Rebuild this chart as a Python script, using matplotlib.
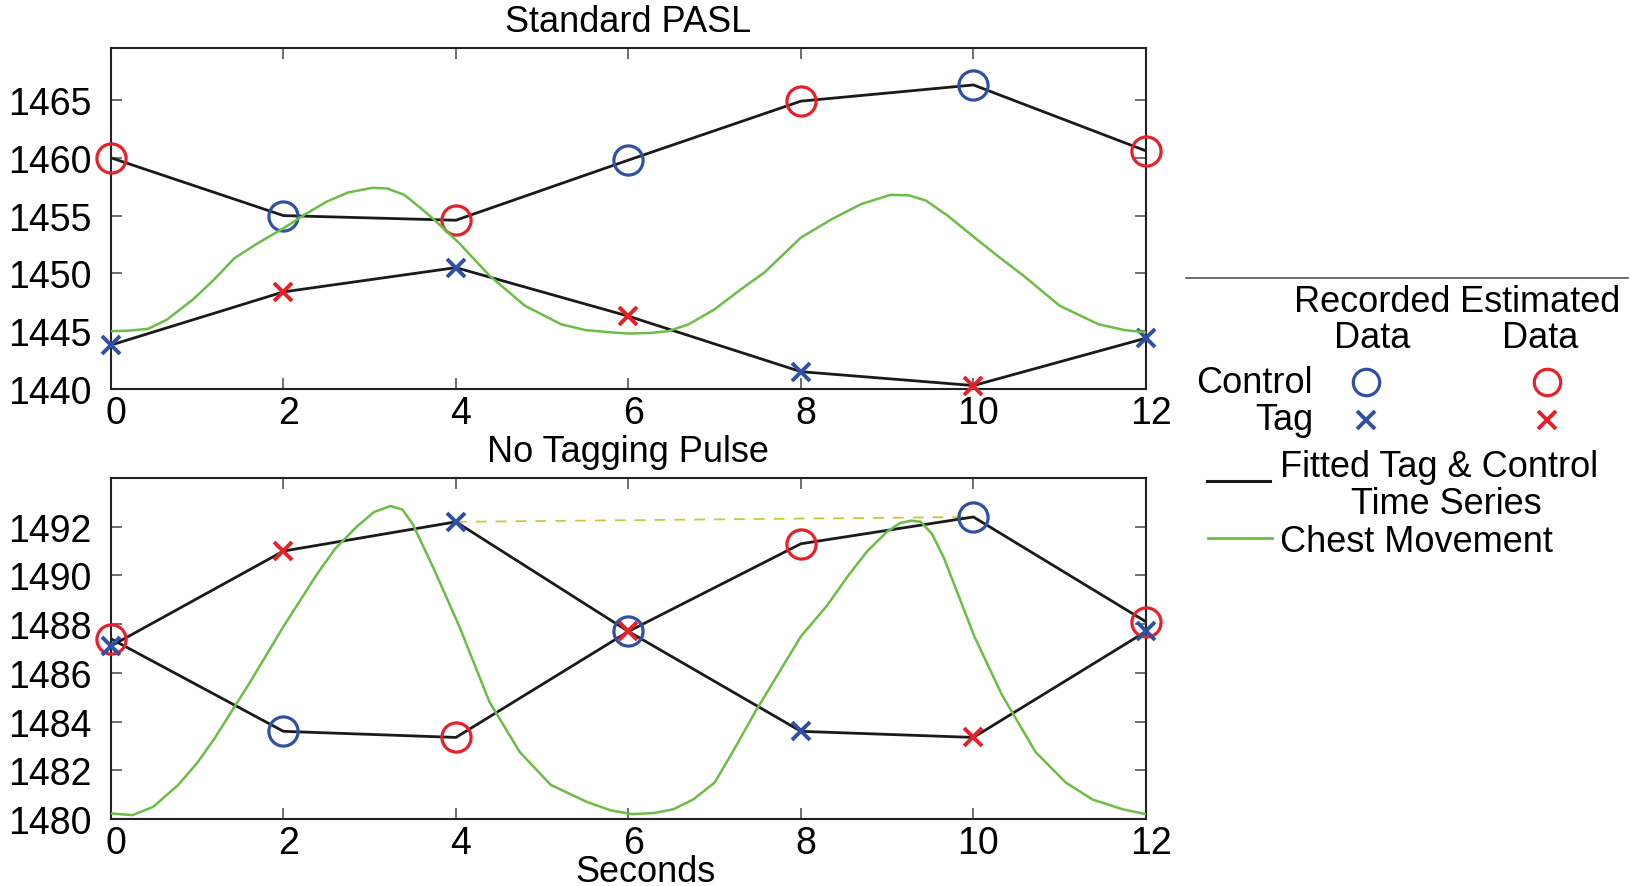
import numpy as np
import matplotlib.pyplot as plt
import matplotlib.transforms as mtransforms
from matplotlib.lines import Line2D

plt.rcParams['font.family'] = ['Liberation Sans', 'DejaVu Sans']

BLUE = '#3050a4'
RED = '#e8202a'
GREEN = '#6cbd45'

t = [0, 2, 4, 6, 8, 10, 12]

# standard PASL: fitted control / tag series at each volume
pasl_control = [1460.0, 1455.0, 1454.6, 1459.8, 1464.9, 1466.3, 1460.6]
pasl_tag = [1443.8, 1448.4, 1450.5, 1446.3, 1441.5, 1440.3, 1444.4]
# which samples were recorded (blue) vs estimated (red)
pasl_ctrl_rec = [False, True, False, True, False, True, False]
pasl_tag_rec = [True, False, True, False, True, False, True]

# no tagging pulse
notag_control = [1487.4, 1483.6, 1483.35, 1487.7, 1491.3, 1492.4, 1488.1]
notag_tag = [1487.1, 1491.0, 1492.2, 1487.7, 1483.6, 1483.35, 1487.7]
notag_ctrl_rec = [False, True, False, True, False, True, False]
notag_tag_rec = [True, False, True, False, True, False, True]

# chest movement traces (scaled into each panel)
chest1_t = [0, 0.2, 0.43, 0.65, 0.96, 1.2, 1.43, 1.7, 2.0, 2.25, 2.5, 2.75,
            3.03, 3.2, 3.4, 3.6, 3.74, 4.04, 4.39, 4.8, 5.22, 5.5, 5.8, 6.0,
            6.25, 6.46, 6.7, 7.0, 7.3, 7.58, 8.0, 8.36, 8.7, 9.04, 9.25, 9.45,
            9.7, 10.03, 10.3, 10.58, 11.0, 11.45, 11.75, 12.0]
chest1_y = [1445.0, 1445.05, 1445.2, 1446.0, 1447.8, 1449.5, 1451.3, 1452.6,
            1453.9, 1455.1, 1456.2, 1457.0, 1457.4, 1457.35, 1456.8, 1455.6,
            1454.7, 1452.6, 1449.8, 1447.2, 1445.6, 1445.1, 1444.9, 1444.8,
            1444.85, 1445.0, 1445.6, 1446.9, 1448.6, 1450.1, 1453.1, 1454.7,
            1456.0, 1456.8, 1456.75, 1456.3, 1455.0, 1453.0, 1451.4, 1449.8,
            1447.2, 1445.6, 1445.1, 1444.9]
chest2_t = [0, 0.25, 0.49, 0.78, 1.0, 1.2, 1.61, 2.0, 2.38, 2.6, 2.85, 3.05,
            3.24, 3.38, 3.5, 3.62, 3.74, 4.04, 4.39, 4.74, 5.1, 5.52, 5.8,
            6.05, 6.3, 6.52, 6.75, 7.0, 7.2, 7.47, 8.0, 8.3, 8.55, 8.77, 9.0,
            9.15, 9.28, 9.39, 9.52, 9.66, 10.01, 10.33, 10.72, 11.07, 11.38,
            11.73, 12.0]
chest2_y = [1480.23, 1480.16, 1480.5, 1481.4, 1482.3, 1483.3, 1485.6, 1487.9,
            1490.0, 1491.1, 1492.0, 1492.6, 1492.85, 1492.7, 1492.1, 1491.2,
            1490.3, 1487.9, 1484.8, 1482.75, 1481.4, 1480.7, 1480.35, 1480.2,
            1480.25, 1480.4, 1480.8, 1481.5, 1482.7, 1484.4, 1487.5, 1488.75,
            1490.0, 1491.0, 1491.8, 1492.15, 1492.25, 1492.2, 1491.7, 1490.7,
            1487.5, 1485.1, 1482.75, 1481.5, 1480.8, 1480.4, 1480.2]

fig = plt.figure(figsize=(16.31, 8.87), dpi=100)
ax1 = fig.add_axes([0.068, 0.5603, 0.6346, 0.3845])
ax2 = fig.add_axes([0.068, 0.0755, 0.6346, 0.3845])

# x tick labels sit a little right of their ticks
shift = mtransforms.ScaledTranslation(5 / 100, 0, fig.dpi_scale_trans)


def draw_panel(ax, control, tag, crec, trec, ct, cy):
    ax.plot(t, control, '-', color='#1a1a1a', lw=2.0, zorder=2)
    ax.plot(t, tag, '-', color='#1a1a1a', lw=2.0, zorder=2)
    for i in range(len(t)):
        c = BLUE if crec[i] else RED
        ax.plot(t[i], control[i], 'o', ms=21, mfc='none', mec=c, mew=2.3,
                zorder=3, clip_on=False)
        c = BLUE if trec[i] else RED
        ax.plot(t[i], tag[i], 'x', ms=13, mec=c, mew=2.8, zorder=3,
                clip_on=False)
    ax.plot(ct, cy, '-', color=GREEN, lw=1.8, zorder=4,
            solid_joinstyle='round')
    ax.set_xlim(0, 12)
    ax.set_xticks(t)
    ax.tick_params(direction='in', length=8, width=1.2, color='#555555',
                   labelsize=27, top=True, right=True)
    ax.tick_params(axis='y', pad=14)
    ax.tick_params(axis='x', pad=4)
    for lab in ax.get_xticklabels():
        lab.set_transform(lab.get_transform() + shift)
    for s in ax.spines.values():
        s.set_linewidth(1.5)
        s.set_color('#222222')


draw_panel(ax1, pasl_control, pasl_tag, pasl_ctrl_rec, pasl_tag_rec,
           chest1_t, chest1_y)
ax1.set_ylim(1440, 1469.5)
ax1.set_yticks([1440, 1445, 1450, 1455, 1460, 1465])
ax1.set_title('Standard PASL', fontsize=26, pad=12)

draw_panel(ax2, notag_control, notag_tag, notag_ctrl_rec, notag_tag_rec,
           chest2_t, chest2_y)
ax2.set_ylim(1480, 1494)
ax2.set_yticks([1480, 1482, 1484, 1486, 1488, 1490, 1492])
ax2.set_title('No Tagging Pulse', fontsize=26, pad=12)
ax2.set_xlabel('Seconds', fontsize=26, labelpad=-5, x=0.517)

# dashed link between the two tag/control peaks
ax2.plot([t[2], t[5]], [notag_tag[2], notag_control[5]], '--',
         color='#c8c83a', lw=1.3, dashes=(6, 5), zorder=1)

# hand-built legend on the right
W, H = 1631.0, 887.0


def fx(px):
    return px / W


def fy(py):
    return 1 - py / H


fig.add_artist(Line2D([fx(1186), fx(1628)], [fy(279), fy(279)],
                      color='#555555', lw=1.2))
fs = 26
fig.text(fx(1372), fy(302), 'Recorded', fontsize=fs, ha='center', va='center')
fig.text(fx(1540), fy(302), 'Estimated', fontsize=fs, ha='center', va='center')
fig.text(fx(1372), fy(338), 'Data', fontsize=fs, ha='center', va='center')
fig.text(fx(1540), fy(338), 'Data', fontsize=fs, ha='center', va='center')
fig.text(fx(1313), fy(384), 'Control', fontsize=fs, ha='right', va='center')
fig.text(fx(1313), fy(421), 'Tag', fontsize=fs, ha='right', va='center')
fig.add_artist(Line2D([fx(1366)], [fy(383)], marker='o', ms=19, mfc='none',
                      mec=BLUE, mew=2.3))
fig.add_artist(Line2D([fx(1547)], [fy(383)], marker='o', ms=19, mfc='none',
                      mec=RED, mew=2.3))
fig.add_artist(Line2D([fx(1366)], [fy(421)], marker='x', ms=13, mec=BLUE,
                      mew=2.8))
fig.add_artist(Line2D([fx(1547)], [fy(421)], marker='x', ms=13, mec=RED,
                      mew=2.8))
fig.add_artist(Line2D([fx(1207), fx(1270)], [fy(482), fy(482)],
                      color='#1a1a1a', lw=2.2))
fig.text(fx(1280), fy(468), 'Fitted Tag & Control', fontsize=fs, ha='left',
         va='center')
fig.text(fx(1446), fy(504), 'Time Series', fontsize=fs, ha='center',
         va='center')
fig.add_artist(Line2D([fx(1208), fx(1272)], [fy(539), fy(539)],
                      color=GREEN, lw=2.0))
fig.text(fx(1280), fy(542), 'Chest Movement', fontsize=fs, ha='left',
         va='center')

fig.savefig('out.png', dpi=100)
